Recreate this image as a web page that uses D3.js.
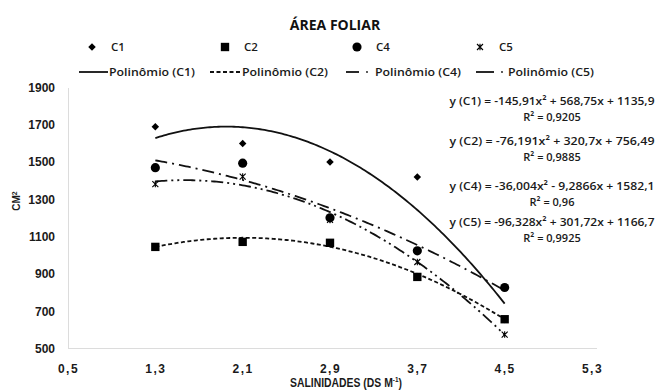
<!DOCTYPE html>
<meta charset="utf-8">
<style>
body { margin: 0; background: #fff; }
svg { display: block; font-family: "Open Sans", sans-serif; }
.tick text { fill: #1a1a1a; }
</style>
<body>
<script src="https://cdn.jsdelivr.net/npm/d3@7"></script>
<script>

// data
var salinidades = [1.3, 2.1, 2.9, 3.7, 4.5];
var c1 = [1690, 1600, 1500, 1420, 655];
var c2 = [1045, 1072, 1067, 884, 657];
var c4 = [1470, 1494, 1201, 1024, 827];
var c5 = [1382, 1422, 1190, 964, 575];

var xTicks = [0.5, 1.3, 2.1, 2.9, 3.7, 4.5, 5.3];
var yTicks = [500, 700, 900, 1100, 1300, 1500, 1700, 1900];

// trendline coefficients shown on the chart (a x^2 + b x + c)
var coefC1 = [-145.91, 568.75, 1135.9];
var coefC2 = [-76.191, 320.7, 756.49];
var coefC4 = [-36.004, -9.2866, 1582.1];
var coefC5 = [-96.328, 301.72, 1166.7];

var eqLabels = [
  "-145,91x² + 568,75x + 1135,9",
  "-76,191x² + 320,7x + 756,49",
  "-36,004x² - 9,2866x + 1582,1",
  "-96,328x² + 301,72x + 1166,7"
];
var r2Labels = ["0,9205", "0,9885", "0,96", "0,9925"];
var seriesNames = ["C1", "C2", "C4", "C5"];

var width = 657, height = 392;

var svg = d3.select("body").append("svg")
    .attr("width", width)
    .attr("height", height);

var x = d3.scaleLinear().domain([0.5, 5.3]).range([68, 592]);
var y = d3.scaleLinear().domain([500, 1900]).range([348.5, 87.5]);

var fmt = function(d) { return d3.format(".1f")(d).replace(".", ","); };

// axes
var gx = svg.append("g")
    .attr("transform", "translate(0," + y(500) + ")")
    .call(d3.axisBottom(x).tickValues(xTicks).tickSize(0).tickPadding(16).tickFormat(fmt));
gx.select(".domain").attr("stroke", "#dcdcdc").attr("d", "M68,0H597");
gx.selectAll("text").style("font-size", "12px").style("font-weight", "600")
    .style("letter-spacing", "1.5px");

var gy = svg.append("g")
    .attr("transform", "translate(" + x(0.5) + ",0)")
    .call(d3.axisLeft(y).tickValues(yTicks).tickSize(0).tickPadding(13).tickFormat(d3.format("d")));
gy.select(".domain").attr("stroke", "#dcdcdc");
gy.selectAll("text").style("font-size", "12px").style("font-weight", "600");

// axis titles
svg.append("text")
    .attr("transform", "translate(346,387) scale(0.8,1)")
    .attr("text-anchor", "middle")
    .style("font-family", "'Liberation Sans', Arial, sans-serif")
    .style("font-weight", "bold").style("font-size", "13px").attr("fill", "#1a1a1a")
    .html("SALINIDADES (DS M<tspan dy='-5' font-size='8'>-1</tspan><tspan dy='5'>)</tspan>");

svg.append("text")
    .attr("transform", "translate(20,201) rotate(-90)")
    .attr("text-anchor", "middle")
    .style("font-family", "'Liberation Sans', Arial, sans-serif")
    .style("font-weight", "bold").style("font-size", "10px").attr("fill", "#1a1a1a")
    .html("CM<tspan dy='-3' font-size='7'>2</tspan>");

// title
svg.append("text")
    .attr("x", 335).attr("y", 30)
    .attr("text-anchor", "middle")
    .style("font-weight", "bold").style("font-size", "14px").attr("fill", "#111")
    .text("ÁREA FOLIAR");

// trendlines
var coefs = [coefC1, coefC2, coefC4, coefC5];
var dashes = [null, "4,2.5", "12,5,2,5", "12,4,2,4,2,4"];
var xs = d3.range(1.3, 4.5001, 0.02);
var line = d3.line().x(function(d) { return x(d[0]); }).y(function(d) { return y(d[1]); });

coefs.forEach(function(c, i) {
  var pts = xs.map(function(v) { return [v, c[0] * v * v + c[1] * v + c[2]]; });
  svg.append("path")
      .datum(pts)
      .attr("d", line)
      .attr("fill", "none")
      .attr("stroke", "#111")
      .attr("stroke-width", 1.8)
      .attr("stroke-dasharray", dashes[i]);
});

// markers
function starPath(s) {
  return "M" + (-s) + "," + (-s) + "L" + s + "," + s +
         "M" + (-s) + "," + s + "L" + s + "," + (-s) +
         "M0," + (-s * 1.1) + "V" + (s * 1.1);
}
function drawMarker(g, kind) {
  if (kind === 0) g.append("path").attr("d", d3.symbol(d3.symbolSquare, 28)()).attr("transform", "rotate(45)").attr("fill", "#000");
  if (kind === 1) g.append("path").attr("d", d3.symbol(d3.symbolSquare, 70)()).attr("fill", "#000");
  if (kind === 2) g.append("path").attr("d", d3.symbol(d3.symbolCircle, 66)()).attr("fill", "#000");
  if (kind === 3) g.append("path").attr("d", starPath(3)).attr("fill", "none")
      .attr("stroke", "#000").attr("stroke-width", 1.1);
}

[c1, c2, c4, c5].forEach(function(vals, i) {
  vals.forEach(function(v, j) {
    var g = svg.append("g")
        .attr("transform", "translate(" + x(salinidades[j]) + "," + y(v) + ")");
    drawMarker(g, i);
  });
});

// equations
var eqY = [105, 145, 190, 226];
eqLabels.forEach(function(t, i) {
  svg.append("text")
      .attr("x", 552).attr("y", eqY[i])
      .attr("text-anchor", "middle")
      .style("font-size", "11px").style("font-weight", "600").attr("fill", "#1a1a1a")
      .attr("textLength", 205).attr("lengthAdjust", "spacingAndGlyphs")
      .text("y (" + seriesNames[i] + ") = " + t);
  svg.append("text")
      .attr("x", 552).attr("y", eqY[i] + 16)
      .attr("text-anchor", "middle")
      .style("font-size", "11px").style("font-weight", "600").attr("fill", "#1a1a1a")
      .text("R² = " + r2Labels[i]);
});

// legend, row 1: markers
var markX = [92, 225, 357, 480];
seriesNames.forEach(function(n, i) {
  var g = svg.append("g").attr("transform", "translate(" + markX[i] + ",47)");
  drawMarker(g, i);
  svg.append("text")
      .attr("x", markX[i] + 19).attr("y", 51)
      .style("font-size", "11.5px").style("font-weight", "600").attr("fill", "#1a1a1a")
      .text(n);
});

// legend, row 2: trendlines
var lineX = [[79, 108], [210, 240], [346, 359], [476, 494]];
var textX = [109, 242, 375, 508];
seriesNames.forEach(function(n, i) {
  svg.append("line")
      .attr("x1", lineX[i][0]).attr("x2", lineX[i][1])
      .attr("y1", 72).attr("y2", 72)
      .attr("stroke", "#111").attr("stroke-width", 1.8)
      .attr("stroke-dasharray", i === 1 ? "4,2.5" : null);
  if (i > 1) {
    svg.append("circle").attr("cx", lineX[i][1] + 8).attr("cy", 72).attr("r", 0.9).attr("fill", "#111");
  }
  svg.append("text")
      .attr("x", textX[i]).attr("y", 76)
      .attr("textLength", 86).attr("lengthAdjust", "spacingAndGlyphs")
      .style("font-size", "11px").style("font-weight", "600").attr("fill", "#1a1a1a")
      .text("Polinômio (" + n + ")");
});

</script>
</body>
